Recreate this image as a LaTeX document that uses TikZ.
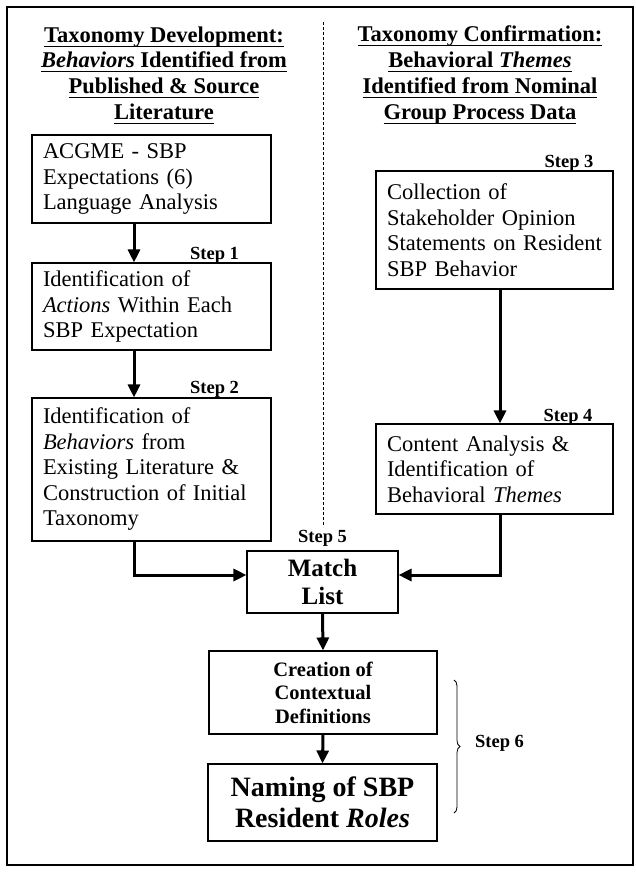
\documentclass[tikz,border=0pt]{standalone}
\usepackage{fontspec}
\setmainfont{Liberation Serif}
\usetikzlibrary{arrows.meta,decorations.pathreplacing}
\newsavebox{\hulbox}
\newcommand{\hul}[1]{\sbox{\hulbox}{#1}\rlap{\rule[-4.5pt]{\wd\hulbox}{1pt}}\usebox{\hulbox}}
\begin{document}
\begin{tikzpicture}[x=1pt,y=-1pt,
  box/.style={draw,line width=1.1pt,rectangle,inner xsep=11pt,inner ysep=0pt,align=left,
    font=\fontsize{22.5}{25.5}\selectfont},
  cbox/.style={draw,line width=1.1pt,rectangle,inner sep=0pt,align=center},
  heading/.style={align=center,font=\bfseries\fontsize{22.5}{25.7}\selectfont},
  steplbl/.style={font=\bfseries\fontsize{18.5}{20}\selectfont,inner sep=0pt},
  arr/.style={line width=3pt,-{Triangle[length=13pt,width=12pt]}},
]
\useasboundingbox (0,0) rectangle (636,883);
% outer frame
\draw[line width=1.3pt] (7,7) rectangle (633,865);
% dashed divider
\coordinate (dtop) at (323,22);
\coordinate (dbot) at (323,527);
\draw[line width=0.8pt,dash pattern=on 3pt off 2pt] (dtop) -- (dbot);
% headings
\node[heading] (hl) at (164,75) {\hul{Taxonomy Development:}\\\hul{\textit{Behaviors} Identified from}\\\hul{Published \& Source}\\\hul{Literature}};
\node[heading] (hr) at (480,75) {\hul{Taxonomy Confirmation:}\\\hul{Behavioral \textit{Themes}}\\\hul{Identified from Nominal}\\\hul{Group Process Data}};
% left column
\node[box,text width=217pt,minimum height=88pt] (A) at (151.5,179) {ACGME - SBP\\Expectations (6)\\Language Analysis};
\node[box,text width=217pt,minimum height=87pt] (B) at (151.5,306.5) {Identification of\\\textit{Actions} Within Each\\SBP Expectation};
\node[box,text width=217pt,minimum height=143pt] (C) at (151.5,469.5) {Identification of\\\textit{Behaviors} from\\Existing Literature \&\\Construction of Initial\\Taxonomy};
% right column
\node[box,text width=215pt,minimum height=118pt] (D) at (494.5,230) {Collection of\\Stakeholder Opinion\\Statements on Resident\\SBP Behavior};
\node[box,text width=215pt,minimum height=90pt] (E) at (494.5,469) {Content Analysis \&\\Identification of\\Behavioral \textit{Themes}};
% center column
\node[cbox,minimum width=151pt,minimum height=62pt,font=\bfseries\fontsize{25}{28}\selectfont] (M) at (322.5,582) {Match\\List};
\node[cbox,minimum width=228pt,minimum height=83pt,font=\bfseries\fontsize{20.5}{23.5}\selectfont] (CR) at (323,692.5) {Creation of\\Contextual\\Definitions};
\node[cbox,minimum width=229pt,minimum height=77pt,font=\bfseries\fontsize{28}{31}\selectfont] (N) at (322.5,802.5) {Naming of SBP\\Resident \textit{Roles}};
% step labels
\node[steplbl] (s1) at (214.5,255) {Step 1};
\node[steplbl] (s2) at (214.5,389) {Step 2};
\node[steplbl] (s3) at (569,163) {Step 3};
\node[steplbl] (s4) at (568,417) {Step 4};
\node[steplbl] (s5) at (322.5,538) {Step 5};
\node[steplbl] (s6) at (499.5,743) {Step 6};
% connectors
\coordinate (xl) at (134,0);
\coordinate (xr) at (500,0);
\coordinate (jy) at (0,575);
\draw[arr] (A.south -| xl) -- (B.north -| xl);
\draw[arr] (B.south -| xl) -- (C.north -| xl);
\draw[arr] (D.south -| xr) -- (E.north -| xr);
\draw[arr] (C.south -| xl) |- (M.west |- jy);
\draw[arr] (E.south -| xr) |- (M.east |- jy);
\draw[arr] (M.south) -- (CR.north);
\draw[arr] (CR.south) -- (N.north);
% brace
\coordinate (b1) at (454,680);
\coordinate (b2) at (454,813);
\draw[line width=0.8pt,decorate,decoration={brace,amplitude=6pt}] (b1) -- (b2);
\end{tikzpicture}
\end{document}
